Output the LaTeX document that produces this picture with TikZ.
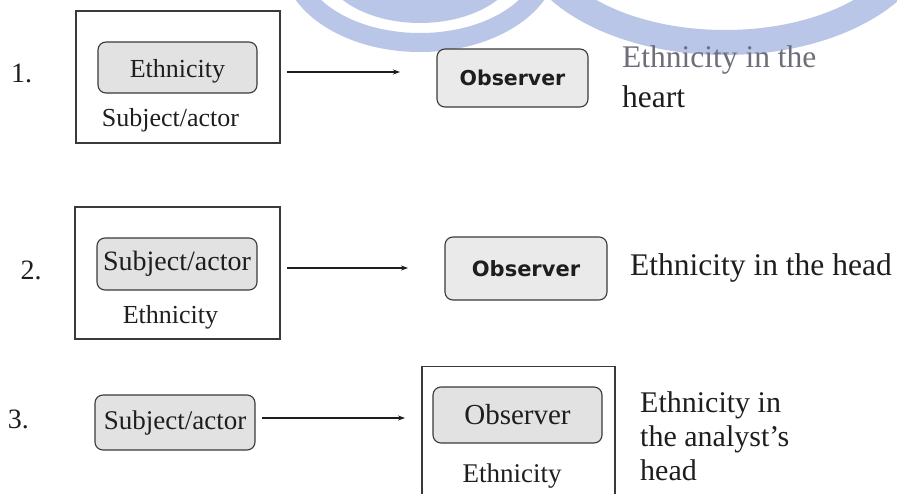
\documentclass[tikz,border=0pt]{standalone}
\usepackage{fontspec}
\setmainfont{Liberation Serif}
\newfontfamily\obsfont{DejaVu Sans}
\usetikzlibrary{arrows.meta}
\definecolor{ink}{HTML}{1E1E1E}
\definecolor{boxline}{HTML}{3A3A3A}
\definecolor{boxfill}{HTML}{E2E2E2}
\definecolor{obsfill}{HTML}{EAEAEA}
\definecolor{wm}{HTML}{BAC6E8}
\definecolor{greytext}{HTML}{6E6E7A}
\tikzset{
  frame/.style={draw=boxline, line width=1.1pt, inner sep=0pt},
  pill/.style={draw=boxline, fill=boxfill, rounded corners=8pt, line width=1.1pt, inner sep=0pt, text=ink},
  lbl/.style={text=ink, inner sep=0pt},
  big/.style={text=ink, inner sep=0pt, anchor=base west, font=\fontsize{31.5}{34}\selectfont},
  num/.style={text=ink, inner sep=0pt, font=\fontsize{28}{30}\selectfont},
  obs/.style={fill=obsfill, font=\obsfont\bfseries\fontsize{20.5}{24}\selectfont},
  arr/.style={-{Stealth[length=7pt,width=5pt]}, line width=1.1pt, draw=ink}
}
\begin{document}
\begin{tikzpicture}[x=1pt,y=-1pt]
\useasboundingbox (0,0) rectangle (897,493);
\clip (0,0) rectangle (897,493);
\fill[white] (0,0) rectangle (897,493);
% watermark
\fill[wm] (420,-40) ellipse [x radius=100, y radius=63];
\fill[wm, even odd rule] (420,-40) ellipse [x radius=138, y radius=92] (420,-40) ellipse [x radius=118, y radius=73];
\fill[wm, even odd rule] (725,-70) ellipse [x radius=210, y radius=125] (725,-70) ellipse [x radius=180, y radius=100];

% row 1
\node[num] (n1) at (21.5,73) {1.};
\node[frame, minimum width=204pt, minimum height=132pt] (f1) at (178,77) {};
\node[pill, minimum width=159pt, minimum height=51pt, font=\fontsize{26}{28}\selectfont] (e1) at (177.5,67.5) {\raisebox{0pt}[20pt][0pt]{Ethnicity}};
\node[lbl, font=\fontsize{26}{28}\selectfont] (s1) at (170.5,120) {Subject/actor};
\node[pill, obs, minimum width=151pt, minimum height=58pt] (ob1) at (512.5,78) {Observer};
\coordinate (a1s) at (287,72);
\coordinate (a1e) at (400,72);
\draw[arr] (a1s) -- (a1e);
\node[big, text=greytext] (t1a) at (622,67) {Ethnicity in the};
\node[big] (t1b) at (622,107) {heart};

% row 2
\node[num] (n2) at (31,270) {2.};
\node[frame, minimum width=205pt, minimum height=132pt] (f2) at (177.5,273) {};
\node[pill, minimum width=160pt, minimum height=52pt, font=\fontsize{28}{30}\selectfont] (s2) at (177,264) {Subject/actor};
\node[lbl, font=\fontsize{26}{28}\selectfont] (e2) at (170.5,317) {Ethnicity};
\node[pill, obs, minimum width=162pt, minimum height=63pt, font=\obsfont\bfseries\fontsize{21}{24}\selectfont] (ob2) at (526,268.5) {Observer};
\coordinate (a2s) at (287,268);
\coordinate (a2e) at (408,268);
\draw[arr] (a2s) -- (a2e);
\node[big] (t2) at (630,275) {Ethnicity in the head};

% row 3
\node[num] (n3) at (18.5,419) {3.};
\node[pill, minimum width=160pt, minimum height=55pt, font=\fontsize{27}{30}\selectfont] (s3) at (175,422.5) {Subject/actor};
\node[frame, minimum width=193pt, minimum height=150pt, anchor=north] (f3) at (518.5,366) {};
\node[pill, minimum width=169pt, minimum height=56pt, font=\fontsize{29}{32}\selectfont] (o3) at (517.5,415) {Observer};
\node[lbl, font=\fontsize{27}{30}\selectfont] (e3) at (512,476) {Ethnicity};
\coordinate (a3s) at (262,418);
\coordinate (a3e) at (405,418);
\draw[arr] (a3s) -- (a3e);
\node[big, font=\fontsize{30}{33}\selectfont] (t3a) at (640,412) {Ethnicity in};
\node[big, font=\fontsize{30}{33}\selectfont] (t3b) at (640,446) {the analyst’s};
\node[big, font=\fontsize{30}{33}\selectfont] (t3c) at (640,480) {head};
\end{tikzpicture}
\end{document}
